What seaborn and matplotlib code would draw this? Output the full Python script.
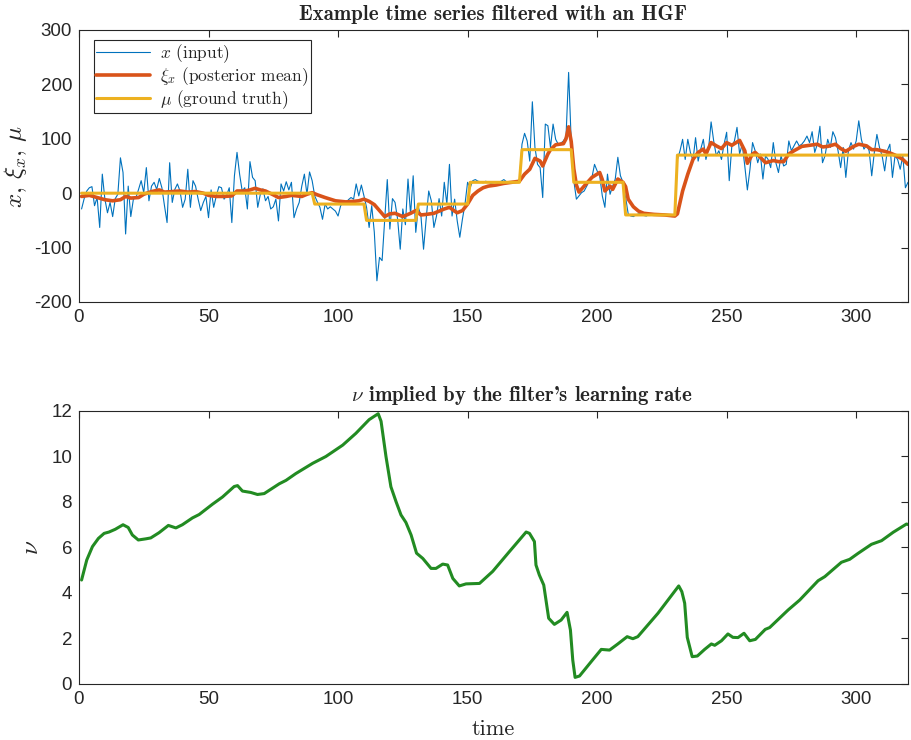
import numpy as np
import matplotlib
matplotlib.use("Agg")
import matplotlib.pyplot as plt
import seaborn as sns

# input samples x(t), t = 1..320
x_seg1 = [-29, -10, 4, 10, 12, -23, -8, -63, 35, -11,
          -36, -17, -43, -10, -2, 65, 38, -75, 13, -43,
          -11, -8, 7, 23, 1, 47, -14, 13, 20, 7,
          27, 10, -23, -54, 56, -17, 7, 17, 4, -26,
          -11, 44, -26, 23, 13, -11, -32, -17, -6, -45,
          6, -26, -5, 12]
x_seg2 = [10, -11, -4, 10, -54, 32, 75, 35, 4, 10,
          -29, 58, 29, 23, -26, -2, 8, -14, -6, -29,
          -25, -11, -51, 17, 4, 21, 6, 20, -45, -29,
          -17, 13, 35, -2, 39, 23, -5, -16, -26, -48,
          -20, -29, -25, -29, -33, -42, -23, -17, -20, -12,
          -8, -11, 17, -5]
x_seg3 = [15, -5, -26, -63, -23, -72, -161, -118, -124, -48,
          25, -66, -10, -17, -48, -103, -29, -58, 26, -39,
          32, -72, -26, -42, -103, -48, 4, -14, -63, -42,
          -10, -42, 20, -20, 53, -42, -11, -51, -81, -48,
          -20, 20, 10, 23, 25, 22, 21, 19, 22, 20,
          18, 19]
x_seg4 = [21, 20, 22, 25, 21, 19, 20, 21, 20, 22,
          90, 110, 96, 59, 168, 84, 53, 47, -8, 127,
          124, 84, 127, 99, 90, 92, 96, 104, 222, 96,
          23, -11, -5, 1, 4, 13, 23, 29, 53, 41,
          32, -5, -26, 35, -2, 13, 26, 66, 32, 20,
          -8, -38, -42, -43]
x_seg5 = [-40, -38, -37, -41, -42, -39, -40, -38, -41, -40,
          -39, -41, -40, -42, -43, -40, 62, 78, 99, 62,
          99, 75, 60, 102, 59, 81, 99, 62, 81, 131,
          96, 69, 78, 62, 90, 112, 23, 87, 96, 121,
          72, 90, 50, 6, 44, 93, 78, 56, 72, 26,
          69, 62, 47, 93]
x_seg6 = [56, 38, 69, 50, 53, 96, 78, 87, 96, 87,
          90, 96, 105, 93, 113, 75, 90, 123, 56, 69,
          99, 84, 113, 102, 78, 47, 84, 29, 78, 93,
          81, 96, 133, 99, 81, 88, 78, 32, 75, 108,
          84, 69, 41, 78, 90, 29, 69, 62, 44, 69,
          10, 20]
x_input = np.array(x_seg1 + x_seg2 + x_seg3 + x_seg4 + x_seg5 + x_seg6)
t = np.arange(1, len(x_input) + 1)

# ground truth: constant levels and how many samples each lasts
mu_levels = [0, -20, -50, -20, 20, 80, 20, -40, 70]
mu_lengths = [90, 20, 20, 20, 20, 20, 20, 20, 90]
mu = np.repeat(mu_levels, mu_lengths)

# posterior mean, read at these times
xi_t = [1, 4, 7, 10, 13, 16, 18, 20, 23, 25,
        28, 31, 33, 36, 39, 42, 45, 48, 50, 53,
        56, 59, 61, 64, 66, 68, 70, 72, 75, 77,
        80, 82, 86, 88, 90, 92, 95, 99, 103, 106,
        108, 110, 112, 114, 116, 118, 120, 122, 124, 125,
        128, 130, 132, 134, 137, 139, 141, 143, 145, 146,
        148, 150, 151, 152, 154, 156, 158, 161, 164, 167,
        170, 172, 174, 176, 178, 179, 181, 182, 184, 187,
        188, 189, 190, 191, 192, 193, 195, 198, 201, 202,
        203, 205, 206, 208, 210, 211, 212, 214, 216, 218,
        222, 226, 230, 231, 233, 235, 237, 239, 241, 242,
        244, 246, 248, 250, 252, 255, 257, 258, 260, 261,
        263, 265, 268, 270, 272, 274, 276, 279, 282, 285,
        287, 289, 292, 294, 296, 299, 301, 304, 306, 308,
        311, 313, 315, 317, 318, 320]
xi_v = [-6, -4, -8, -12, -14, -12, -6, -9, -8, -2,
        3, 6, 2, 3, 4, 2, 3, 0, -4, -6,
        -6, -5, 4, 4, 6, 9, 6, 4, -3, -8,
        -6, -4, -6, -2, 1, -3, -8, -14, -16, -15,
        -14, -11, -15, -21, -32, -43, -38, -37, -41, -43,
        -37, -32, -40, -39, -37, -33, -29, -26, -33, -36,
        -32, -20, -12, -4, 4, 10, 13, 15, 18, 20,
        22, 35, 44, 64, 59, 50, 72, 80, 89, 91,
        100, 122, 95, 45, 15, 2, 13, 29, 38, 25,
        4, 13, 7, 26, 20, 12, -11, -25, -33, -37,
        -39, -40, -42, -38, 4, 35, 62, 75, 81, 72,
        93, 87, 82, 93, 88, 97, 78, 55, 72, 75,
        66, 56, 60, 58, 58, 72, 78, 86, 88, 90,
        85, 86, 90, 82, 77, 86, 90, 87, 80, 80,
        77, 74, 70, 65, 62, 53]

# nu implied by the learning rate
nu_t = [1, 3, 5.2, 7.5, 9.7, 11.6, 14, 17, 19, 20.6,
        22.9, 25.8, 27.7, 30.9, 34.5, 37.4, 39.9, 43.8, 46.4, 51.5,
        55.4, 59.9, 61.2, 63.1, 66.3, 68.9, 71.5, 77.3, 79.9, 83.7,
        90.2, 95.3, 101.8, 106.9, 112, 115.5, 116.6, 118.5, 120.4, 122.4,
        124.3, 126.2, 128.2, 130.3, 132.7, 135.9, 137.8, 140.4, 142.3, 144.3,
        146.8, 149.4, 154.6, 159.7, 166, 172.6, 173.9, 175.8, 176.4, 177.7,
        179.4, 181.3, 183.5, 186.1, 188.4, 189.7, 190.6, 191.5, 193.2, 197.7,
        201.6, 204.8, 208, 211.6, 213.8, 215.7, 223.5, 231.5, 232.7, 233.8,
        234.8, 236.7, 238.7, 241.5, 244.1, 245.4, 248, 250.5, 252.4, 254.4,
        256.7, 258.9, 261.1, 264.9, 266.6, 273.7, 278.2, 285.3, 287.9, 294.3,
        297.5, 300.7, 305.9, 309.8, 314.3, 319.4, 320.5]
nu_v = [4.57, 5.45, 6.04, 6.4, 6.62, 6.68, 6.8, 7.0, 6.88, 6.55,
        6.33, 6.38, 6.42, 6.65, 6.97, 6.86, 7.0, 7.3, 7.45, 7.9,
        8.22, 8.68, 8.72, 8.48, 8.42, 8.33, 8.37, 8.8, 8.95, 9.25,
        9.7, 10.0, 10.5, 11.02, 11.62, 11.88, 11.55, 10.0, 8.67, 8.01,
        7.43, 7.1, 6.55, 5.75, 5.52, 5.08, 5.08, 5.27, 5.23, 4.64,
        4.31, 4.4, 4.42, 4.95, 5.8, 6.68, 6.62, 6.26, 5.23, 4.79,
        4.35, 2.89, 2.62, 2.81, 3.15, 2.37, 1.05, 0.29, 0.35, 0.98,
        1.52, 1.49, 1.76, 2.08, 1.99, 2.08, 3.11, 4.31, 4.06, 3.55,
        2.05, 1.2, 1.23, 1.52, 1.76, 1.7, 1.9, 2.2, 2.05, 2.04,
        2.23, 1.9, 1.96, 2.4, 2.48, 3.25, 3.69, 4.54, 4.72, 5.35,
        5.48, 5.74, 6.14, 6.3, 6.67, 7.03, 7.0]

sns.set_style("white")
plt.rcParams["font.family"] = ["Liberation Sans", "DejaVu Sans"]
plt.rcParams["mathtext.fontset"] = "cm"
plt.rcParams["axes.unicode_minus"] = False

fig = plt.figure(figsize=(9.11, 7.40), dpi=100)
ax1 = fig.add_axes([0.0867, 0.5919, 0.910, 0.3676])
ax2 = fig.add_axes([0.0867, 0.0757, 0.910, 0.3689])

sns.lineplot(x=t, y=x_input, ax=ax1, color="#0072BD", linewidth=0.8,
             estimator=None, label=r"$x$ (input)")
sns.lineplot(x=xi_t, y=xi_v, ax=ax1, color="#D95319", linewidth=2.6,
             estimator=None, label=r"$\xi_x$ (posterior mean)")
sns.lineplot(x=t, y=mu, ax=ax1, color="#EDB120", linewidth=2.2,
             estimator=None, label=r"$\mu$ (ground truth)")

sns.lineplot(x=nu_t, y=nu_v, ax=ax2, color="#228B22", linewidth=2.2,
             estimator=None, legend=False)

ax1.set_xlim(0, 320)
ax1.set_ylim(-200, 300)
ax1.set_xticks(range(0, 301, 50))
ax1.set_yticks(range(-200, 301, 100))
ax2.set_xlim(0, 320)
ax2.set_ylim(0, 12)
ax2.set_xticks(range(0, 301, 50))
ax2.set_yticks(range(0, 13, 2))

for ax in (ax1, ax2):
    for s in ax.spines.values():
        s.set_visible(True)
        s.set_color("#262626")
        s.set_linewidth(0.8)
    ax.tick_params(direction="in", top=True, right=True, length=5,
                   width=0.8, color="#262626", labelsize=13.5,
                   labelcolor="#262626", pad=5)
    ax.grid(False)

ax1.set_title("Example time series filtered with an HGF", fontfamily="cmb10",
              fontsize=15, pad=7)
# the reference title sits a little right of centre
ax2.set_title(r"$\nu$ implied by the filter's learning rate", fontfamily="cmb10",
              fontsize=15, pad=7, x=0.535)
ax1.set_ylabel(r"$x,\,\xi_x,\,\mu$", fontsize=18, labelpad=4)
ax2.set_ylabel(r"$\nu$", fontsize=18, labelpad=6)
ax2.set_xlabel("time", fontfamily="cmr10", fontsize=16, labelpad=8)
ax1.set_xlabel("")

leg = ax1.legend(loc="upper left", bbox_to_anchor=(0.018, 0.963),
                 borderaxespad=0, frameon=True, fancybox=False,
                 edgecolor="#262626", framealpha=1, handlelength=3.1,
                 handletextpad=0.6, labelspacing=0.02, borderpad=0.12,
                 prop={"family": "cmr10", "size": 12.5})
leg.get_frame().set_linewidth(0.8)

fig.savefig("out.png", dpi=100)
